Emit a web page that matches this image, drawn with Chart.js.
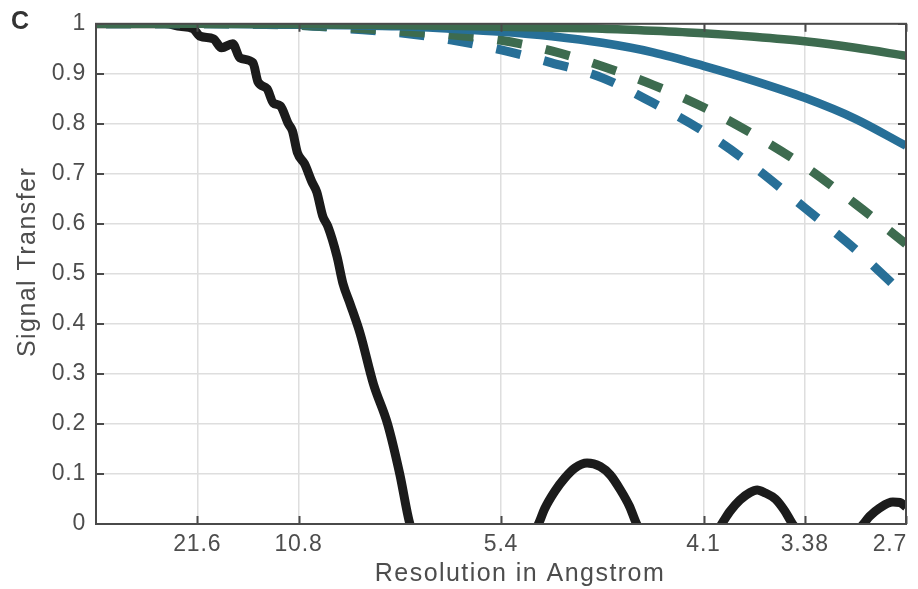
<!DOCTYPE html>
<html><head><meta charset="utf-8">
<script src="https://cdn.jsdelivr.net/npm/chart.js@4.4.1/dist/chart.umd.min.js"></script>
<style>html,body{margin:0;padding:0;background:#fff;}#wrap{width:918px;height:589px;position:relative;}</style>
</head><body><div id="wrap"><canvas id="c" width="918" height="589"></canvas></div>
<script>
// ---- text ----
const panelLabel = 'C';
const xTitle = 'Resolution in Angstrom';
const yTitle = 'Signal Transfer';

// ---- x axis: frequency index (multiples of 1/21.6 Å^-1) with resolution labels ----
const xTickPositions = [1, 2, 4, 6, 7, 8];
const xTickLabels = ['21.6', '10.8', '5.4', '4.1', '3.38', '2.7'];

// ---- black curve (oscillating transfer) ----
const blackX = [0, 0.68, 0.83, 0.96, 1.03, 1.16, 1.24, 1.35, 1.42, 1.55, 1.60, 1.69, 1.75, 1.82, 1.90, 1.94, 1.99,
  2.06, 2.13, 2.18, 2.24, 2.29, 2.38, 2.44, 2.51, 2.61, 2.74, 2.88, 3.00, 3.10, 3.30, 3.70, 4.10, 4.37,
  4.43, 4.53, 4.63, 4.73, 4.85, 4.98, 5.08, 5.18, 5.27, 5.34, 5.55, 5.76, 5.97, 6.18,
  6.26, 6.36, 6.46, 6.53, 6.61, 6.71, 6.80, 6.88, 7.05, 7.23, 7.41, 7.58,
  7.64, 7.74, 7.87, 7.94, 8.00];
const blackY = [1.0, 1.0, 0.995, 0.99, 0.975, 0.97, 0.952, 0.96, 0.932, 0.922, 0.884, 0.87, 0.842, 0.836, 0.80, 0.786, 0.742,
  0.72, 0.685, 0.664, 0.615, 0.595, 0.535, 0.48, 0.44, 0.38, 0.28, 0.20, 0.10, 0.0, -0.09, -0.15, -0.09, 0.0,
  0.03, 0.065, 0.092, 0.112, 0.122, 0.115, 0.098, 0.068, 0.035, 0.0, -0.06, -0.085, -0.06, 0.0,
  0.025, 0.048, 0.063, 0.068, 0.062, 0.05, 0.027, 0.0, -0.04, -0.055, -0.04, 0.0,
  0.015, 0.032, 0.044, 0.043, 0.034];

// ---- smooth envelope curves ----
const curveX      = [0, 1, 2, 2.5, 3, 3.5, 4, 4.5, 5, 5.5, 6, 6.5, 7, 7.5, 8];
const greenSolid  = [1, 1, 0.999, 0.998, 0.997, 0.996, 0.994, 0.992, 0.990, 0.986, 0.981, 0.974, 0.965, 0.952, 0.936];
const blueSolid   = [1, 1, 0.998, 0.997, 0.995, 0.990, 0.984, 0.975, 0.962, 0.943, 0.916, 0.886, 0.852, 0.810, 0.756];
const greenDashed = [1, 1, 0.997, 0.992, 0.985, 0.978, 0.967, 0.946, 0.915, 0.878, 0.833, 0.778, 0.715, 0.640, 0.560];
const blueDashed  = [1, 1, 0.997, 0.990, 0.982, 0.968, 0.948, 0.922, 0.892, 0.842, 0.785, 0.714, 0.632, 0.549, 0.455];

const GREEN = '#3d6b4f', BLUE = '#276f97', BLACK = '#1b1b1b';
const AXIS = '#4a4a4a', GRID = '#dedede', TEXT = '#4d4d4d';
const FONT = '"Liberation Sans", Arial, Helvetica, sans-serif';

const pts = (xs, ys) => xs.map((x, i) => ({x: x, y: ys[i]}));

const boxPlugin = {
  id: 'box',
  beforeDraw(chart) {
    const c = chart.ctx;
    const xs = chart.scales.x, ys = chart.scales.y;
    [[xs, 19, 0], [ys, 0, -12]].forEach(([s, dx, dy]) => {
      if (s._wrapT) return;
      const ot = s.drawTitle, ol = s.drawLabels, og = s.getLabelItems;
      s.drawTitle = function () { c.save(); c.letterSpacing = '1.45px'; c.translate(dx, dy); ot.apply(this, arguments); c.restore(); };
      s.drawLabels = function () { c.save(); c.letterSpacing = '0.8px'; ol.apply(this, arguments); c.restore(); };
      if (s === xs) {
        // keep the last tick label inside the figure, as the original does
        s.getLabelItems = function () {
          const items = og.apply(this, arguments);
          const last = items[items.length - 1];
          if (last && !last._kept) {
            last.options.textAlign = 'right';
            last.options.translation[0] = chart.chartArea.right + 1;
            last._kept = true;
          }
          return items;
        };
      }
      s._wrapT = true;
    });
  },
  afterDatasetsDraw(chart) {
    const c = chart.ctx, a = chart.chartArea;
    const xs = chart.scales.x, ys = chart.scales.y;
    const L = 8;
    c.save();
    c.strokeStyle = AXIS; c.lineWidth = 2;
    c.beginPath();
    xs.ticks.forEach(t => {
      const px = Math.round(xs.getPixelForValue(t.value)) + 0.5;
      c.moveTo(px, a.bottom); c.lineTo(px, a.bottom - L);
      c.moveTo(px, a.top); c.lineTo(px, a.top + L);
    });
    ys.ticks.forEach(t => {
      const py = Math.round(ys.getPixelForValue(t.value));
      c.moveTo(a.left, py); c.lineTo(a.left + L, py);
      c.moveTo(a.right, py); c.lineTo(a.right - L, py);
    });
    c.stroke();
    c.strokeRect(a.left, a.top, a.right - a.left, a.bottom - a.top);
    c.restore();
  },
  afterDraw(chart) {
    const c = chart.ctx;
    c.save();
    c.font = 'bold 25px ' + FONT;
    c.fillStyle = '#333333';
    c.textBaseline = 'alphabetic';
    c.fillText(panelLabel, 11, 29);
    c.restore();
  }
};

const common = {fill: false, pointRadius: 0, clip: 0, cubicInterpolationMode: 'monotone', borderCapStyle: 'butt', borderJoinStyle: 'round'};

new Chart(document.getElementById('c').getContext('2d'), {
  type: 'line',
  data: {
    datasets: [
      Object.assign({label: 'green solid', data: pts(curveX, greenSolid), borderColor: GREEN, borderWidth: 8.5}, common),
      Object.assign({label: 'blue solid', data: pts(curveX, blueSolid), borderColor: BLUE, borderWidth: 8.5}, common),
      Object.assign({label: 'green dashed', data: pts(curveX, greenDashed), borderColor: GREEN, borderWidth: 9, borderDash: [25, 24], borderDashOffset: 39}, common),
      Object.assign({label: 'blue dashed', data: pts(curveX, blueDashed), borderColor: BLUE, borderWidth: 9, borderDash: [25, 24], borderDashOffset: 39}, common),
      Object.assign({label: 'black', data: pts(blackX, blackY), borderColor: BLACK, borderWidth: 9}, common)
    ]
  },
  options: {
    responsive: false,
    animation: false,
    devicePixelRatio: 1,
    layout: {padding: {top: 23, right: 12, left: 0, bottom: 0}},
    plugins: {legend: {display: false}, tooltip: {enabled: false}, title: {display: false}},
    scales: {
      x: {
        type: 'linear', min: 0, max: 8,
        afterBuildTicks: s => { s.ticks = xTickPositions.map(v => ({value: v})); },
        afterFit: s => { s.height = 65; s.paddingLeft = 0; s.paddingRight = 0; },
        ticks: {
          autoSkip: false, maxRotation: 0, minRotation: 0, padding: 7,
          color: TEXT, font: {family: FONT, size: 23},
          callback: v => xTickLabels[xTickPositions.indexOf(v)]
        },
        grid: {color: GRID, lineWidth: 1.5, drawTicks: false},
        border: {display: false},
        title: {display: true, text: xTitle, color: TEXT, font: {family: FONT, size: 25}, padding: {top: 0, bottom: 0}}
      },
      y: {
        type: 'linear', min: 0, max: 1,
        afterFit: s => { s.width = 96; },
        ticks: {
          stepSize: 0.1, padding: 10, color: TEXT, font: {family: FONT, size: 23},
          callback: v => String(+v.toFixed(1))
        },
        grid: {color: GRID, lineWidth: 1.5, drawTicks: false},
        border: {display: false},
        title: {display: true, text: yTitle, color: TEXT, font: {family: FONT, size: 25}, padding: {top: 13, bottom: 0}}
      }
    }
  },
  plugins: [boxPlugin]
});
</script>
</body></html>
